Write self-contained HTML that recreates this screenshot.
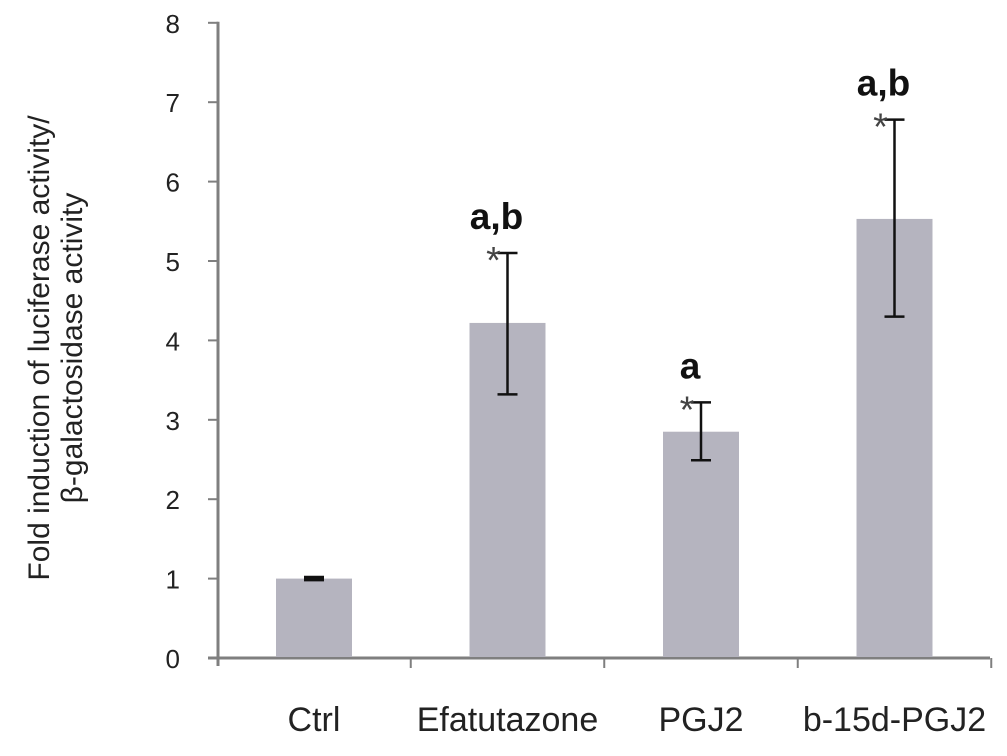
<!DOCTYPE html>
<html><head><meta charset="utf-8"><style>
body{margin:0;background:#fff;}
svg text{font-family:"Liberation Sans",sans-serif;}
</style></head><body>
<svg id="chart" width="1007" height="751" xmlns="http://www.w3.org/2000/svg">
<g id="g"></g>
</svg>
<script>
const categories=["Ctrl","Efatutazone","PGJ2","b-15d-PGJ2"];
const values=[1.0,4.22,2.85,5.53];
const errHigh=[1.01,5.1,3.22,6.78];
const errLow=[0.99,3.32,2.49,4.3];
const sigLabels=["","a,b","a","a,b"];
const stars=[false,true,true,true];
const yTicks=[0,1,2,3,4,5,6,7,8];
const NS="http://www.w3.org/2000/svg";
const g=document.getElementById('g');
const x0=218,y0=658,unit=79.4,step=193.5,first=314,bw=76;
const y=v=>y0-v*unit;
const xc=i=>first+i*step;
function mk(t,a,txt){const e=document.createElementNS(NS,t);for(const k in a)e.setAttribute(k,a[k]);if(txt!==undefined)e.textContent=txt;g.appendChild(e);return e;}
let e=mk('line',{x1:x0,y1:y(8)-1,x2:x0,y2:y0+8,stroke:'#7f7f7f','stroke-width':3});


e=mk('line',{x1:x0-10,y1:y0,x2:990,y2:y0,stroke:'#7f7f7f','stroke-width':3});


categories.forEach((c,i)=>{
 e=mk('line',{x1:xc(i)+step/2,y1:y0,x2:xc(i)+step/2,y2:y0+10,stroke:'#7f7f7f','stroke-width':2});
 
 
});
yTicks.forEach(t=>{
 e=mk('line',{x1:x0-10,y1:y(t),x2:x0,y2:y(t),stroke:'#7f7f7f','stroke-width':2});
 
 
 e=mk('text',{x:180,y:y(t)+10,'font-size':26,fill:'#222','text-anchor':'end'},String(t));
 
 
});
categories.forEach((c,i)=>{
 e=mk('rect',{x:xc(i)-bw/2,y:y(values[i]),width:bw,height:y0-y(values[i])-1,fill:'#b5b4bf'});
 
 
 e=mk('line',{x1:xc(i),y1:y(errHigh[i]),x2:xc(i),y2:y(errLow[i]),stroke:'#111','stroke-width':2.5});
 
 
 [errHigh[i],errLow[i]].forEach(v=>{
  e=mk('line',{x1:xc(i)-10,y1:y(v),x2:xc(i)+10,y2:y(v),stroke:'#111','stroke-width':(i==0?4:2.5)});
  
  
 });
 if(stars[i]){
  e=mk('text',{x:xc(i)-14,y:y(errHigh[i])+20,'font-size':38,fill:'#444','text-anchor':'middle'},'*');
  
  
 }
 if(sigLabels[i]){
  e=mk('text',{x:xc(i)-11,y:y(errHigh[i])-24,'font-size':37,'font-weight':'bold',fill:'#111','text-anchor':'middle'},sigLabels[i]);
  
  
 }
 e=mk('text',{x:xc(i),y:731,'font-size':34,fill:'#222','text-anchor':'middle'},c);
 
 
});
e=mk('text',{transform:'translate(49,348) rotate(-90)','font-size':30,fill:'#222','text-anchor':'middle'},'Fold induction of luciferase activity/');


e=mk('text',{transform:'translate(82,348) rotate(-90)','font-size':30,fill:'#222','text-anchor':'middle'},'β-galactosidase activity');


</script>
</body></html>
